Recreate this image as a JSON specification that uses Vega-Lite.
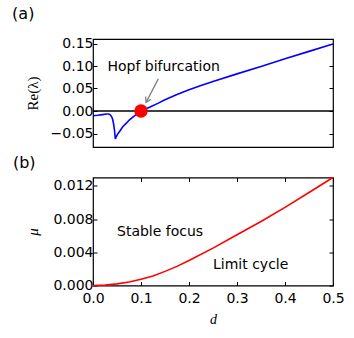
{
  "$schema": "https://vega.github.io/schema/vega-lite/v6.json",
  "padding": {"left": 11, "top": 4, "right": 20, "bottom": 5},
  "config": {
    "view": {"stroke": "black", "strokeWidth": 1.2},
    "font": "DejaVu Sans",
    "axis": {"domain": false, "grid": false, "tickSize": -4, "tickColor": "black", "tickWidth": 1, "labelFont": "DejaVu Sans", "labelFontSize": 14, "labelColor": "black", "labelPadding": 4, "labelFlush": false, "labelOverlap": false, "labelBound": false, "titleFont": "Liberation Serif", "titleFontWeight": "normal", "titleFontSize": 15, "titleColor": "black"},
    "title": {"font": "DejaVu Sans", "fontSize": 16, "fontWeight": "normal", "anchor": "start", "frame": "bounds", "color": "black"}
  },
  "datasets": {
    "re": [
      {"d": 0.000, "re": -0.0105}, {"d": 0.010, "re": -0.0095}, {"d": 0.020, "re": -0.0080}, {"d": 0.028, "re": -0.0068},
      {"d": 0.033, "re": -0.0068}, {"d": 0.036, "re": -0.0085}, {"d": 0.039, "re": -0.0130}, {"d": 0.041, "re": -0.0190},
      {"d": 0.043, "re": -0.0290}, {"d": 0.045, "re": -0.0450}, {"d": 0.0465, "re": -0.0620}, {"d": 0.048, "re": -0.0580},
      {"d": 0.051, "re": -0.0520}, {"d": 0.055, "re": -0.0460}, {"d": 0.062, "re": -0.0350}, {"d": 0.070, "re": -0.0265},
      {"d": 0.076, "re": -0.0196}, {"d": 0.085, "re": -0.0120}, {"d": 0.093, "re": -0.0060}, {"d": 0.100, "re": -0.0010},
      {"d": 0.110, "re": 0.0045}, {"d": 0.120, "re": 0.0095}, {"d": 0.135, "re": 0.0170}, {"d": 0.150, "re": 0.0250},
      {"d": 0.175, "re": 0.0365}, {"d": 0.200, "re": 0.0470}, {"d": 0.225, "re": 0.0565}, {"d": 0.250, "re": 0.0655},
      {"d": 0.300, "re": 0.0825}, {"d": 0.350, "re": 0.0990}, {"d": 0.400, "re": 0.1160}, {"d": 0.450, "re": 0.1325},
      {"d": 0.500, "re": 0.1490}
    ],
    "mu": [
      {"d": 0.0, "mu": 0.0}, {"d": 0.025, "mu": 0.00005}, {"d": 0.05, "mu": 0.0002}, {"d": 0.075, "mu": 0.00043},
      {"d": 0.1, "mu": 0.00075}, {"d": 0.125, "mu": 0.00115}, {"d": 0.15, "mu": 0.0017}, {"d": 0.175, "mu": 0.0023},
      {"d": 0.2, "mu": 0.0030}, {"d": 0.25, "mu": 0.0045}, {"d": 0.3, "mu": 0.0061}, {"d": 0.35, "mu": 0.0077},
      {"d": 0.4, "mu": 0.0094}, {"d": 0.45, "mu": 0.0112}, {"d": 0.5, "mu": 0.0130}
    ],
    "zero": [{"y": 0}],
    "hopf": [{"d": 0.1, "re": 0.0}],
    "arrow": [{"d1": 0.136, "re1": 0.0714, "d2": 0.1106, "re2": 0.0192}],
    "notea": [{"d": 0.03, "re": 0.09, "label": "Hopf bifurcation"}],
    "noteb": [{"d": 0.05, "mu": 0.006, "label": "Stable focus"}, {"d": 0.25, "mu": 0.002, "label": "Limit cycle"}]
  },
  "spacing": 6.5,
  "vconcat": [
    {
      "title": {"text": "(a)", "dx": -13, "offset": 15},
      "width": 240,
      "height": 108,
      "layer": [
        {
          "data": {"name": "zero"},
          "mark": {"type": "rule", "color": "black", "strokeWidth": 1.5},
          "encoding": {"y": {"field": "y", "type": "quantitative", "axis": null}}
        },
        {
          "data": {"name": "re"},
          "mark": {"type": "line", "color": "#0000ff", "strokeWidth": 1.6, "clip": true},
          "encoding": {
            "x": {"field": "d", "type": "quantitative", "scale": {"domain": [0, 0.5]}, "axis": null},
            "y": {"field": "re", "type": "quantitative", "scale": {"domain": [-0.07, 0.15]},
                  "axis": {"values": [-0.05, 0, 0.05, 0.1, 0.15], "format": ".2f", "title": "Re(λ)", "titlePadding": 10}}
          }
        },
        {
          "data": {"name": "re"},
          "mark": {"type": "line", "strokeOpacity": 0},
          "encoding": {
            "x": {"field": "d", "type": "quantitative", "axis": null},
            "y": {"field": "re", "type": "quantitative", "axis": {"orient": "right", "values": [-0.05, 0, 0.05, 0.1, 0.15], "labels": false, "title": null}}
          }
        },
        {
          "data": {"name": "hopf"},
          "mark": {"type": "point", "filled": true, "color": "#ff0000", "opacity": 1, "size": 180},
          "encoding": {
            "x": {"field": "d", "type": "quantitative", "axis": null},
            "y": {"field": "re", "type": "quantitative", "axis": null}
          }
        },
        {
          "data": {"name": "arrow"},
          "mark": {"type": "rule", "color": "#808080", "strokeWidth": 1.3},
          "encoding": {
            "x": {"field": "d1", "type": "quantitative", "axis": null},
            "y": {"field": "re1", "type": "quantitative", "axis": null},
            "x2": {"field": "d2"},
            "y2": {"field": "re2"}
          }
        },
        {
          "data": {"name": "arrow"},
          "mark": {"type": "point", "shape": "M-0.6,-1L0,0L0.6,-1", "filled": false, "color": "#808080", "strokeWidth": 1.3, "size": 100, "angle": 26, "opacity": 1},
          "encoding": {
            "x": {"field": "d2", "type": "quantitative", "axis": null},
            "y": {"field": "re2", "type": "quantitative", "axis": null}
          }
        },
        {
          "data": {"name": "notea"},
          "mark": {"type": "text", "align": "left", "baseline": "alphabetic", "fontSize": 14, "font": "DejaVu Sans", "color": "black"},
          "encoding": {
            "x": {"field": "d", "type": "quantitative", "axis": null},
            "y": {"field": "re", "type": "quantitative", "axis": null},
            "text": {"field": "label"}
          }
        }
      ],
      "resolve": {"axis": {"x": "independent", "y": "independent"}}
    },
    {
      "title": {"text": "(b)", "dx": -13, "offset": 3},
      "width": 240,
      "height": 108,
      "layer": [
        {
          "data": {"name": "mu"},
          "mark": {"type": "line", "color": "#ff0000", "strokeWidth": 1.6},
          "encoding": {
            "x": {"field": "d", "type": "quantitative", "scale": {"domain": [0, 0.5]},
                  "axis": {"values": [0, 0.1, 0.2, 0.3, 0.4, 0.5], "format": ".1f", "title": "d", "titleFontStyle": "italic", "titleFontSize": 14, "labelPadding": 10, "titlePadding": 7}},
            "y": {"field": "mu", "type": "quantitative", "scale": {"domain": [0, 0.013]},
                  "axis": {"values": [0, 0.004, 0.008, 0.012], "format": ".3f", "title": "μ", "titleFontStyle": "italic", "titlePadding": 12}}
          }
        },
        {
          "data": {"name": "mu"},
          "mark": {"type": "line", "strokeOpacity": 0},
          "encoding": {
            "x": {"field": "d", "type": "quantitative", "axis": {"orient": "top", "values": [0, 0.1, 0.2, 0.3, 0.4, 0.5], "labels": false, "title": null}},
            "y": {"field": "mu", "type": "quantitative", "axis": {"orient": "right", "values": [0, 0.004, 0.008, 0.012], "labels": false, "title": null}}
          }
        },
        {
          "data": {"name": "noteb"},
          "mark": {"type": "text", "align": "left", "baseline": "alphabetic", "fontSize": 14, "font": "DejaVu Sans", "color": "black"},
          "encoding": {
            "x": {"field": "d", "type": "quantitative", "axis": null},
            "y": {"field": "mu", "type": "quantitative", "axis": null},
            "text": {"field": "label"}
          }
        }
      ],
      "resolve": {"axis": {"x": "independent", "y": "independent"}}
    }
  ]
}
